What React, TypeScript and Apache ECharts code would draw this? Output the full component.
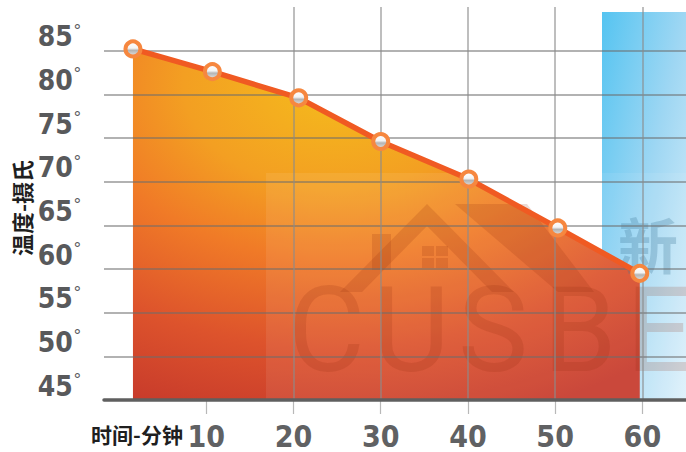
import React, { useEffect, useRef } from "react";
import * as echarts from "echarts";

// ---- data ----
const minutes = [1.6, 10.7, 20.6, 30, 40.1, 50.3, 59.7];
const temperatures = [85.2, 82.6, 79.6, 74.6, 70.3, 64.7, 59.5];
const xTickValues = [10, 20, 30, 40, 50, 60];
const yTickValues = [45, 50, 55, 60, 65, 70, 75, 80, 85];
const yAxisTitle = "温度-摄氏";
const xAxisTitle = "时间-分钟";
const watermarkLetters = ["C", "U", "S", "B", "E"];
const watermarkCJK = "新";

const NARROW = "'Liberation Sans Narrow', 'DejaVu Sans Condensed', 'Arial Narrow', sans-serif";
const CJK = "'Noto Sans CJK SC', 'Noto Sans', sans-serif";

export default function App() {
  const ref = useRef<HTMLDivElement>(null);

  useEffect(() => {
    if (!ref.current) return;
    const chart = echarts.init(ref.current, undefined, { renderer: "svg" });
    const points = minutes.map((m, i) => [m, temperatures[i]]);

    const letterX = [288, 373, 458, 543, 626];
    const wmColor = "rgba(140,40,10,0.17)";

    const option: any = {
      animation: false,
      grid: [
        { left: 104, right: 0, top: 7, bottom: 52 },
        { left: 119, right: -4, top: 7, bottom: 52 },
      ],
      xAxis: [
        {
          gridIndex: 0,
          type: "value",
          min: 0,
          max: 1,
          z: 4,
          axisLine: { show: true, lineStyle: { color: "#5f5f5f", width: 3.5, cap: "round" } },
          axisTick: { show: false },
          axisLabel: { show: false },
          splitLine: { show: false },
        },
        {
          gridIndex: 1,
          type: "value",
          min: 0,
          max: 65,
          interval: 5,
          z: 2,
          axisLine: { show: false },
          axisTick: {
            show: true,
            customValues: xTickValues,
            length: 14,
            lineStyle: { color: "#b8b8b8", width: 1.2 },
          },
          axisLabel: {
            customValues: xTickValues,
            margin: 21,
            fontSize: 30,
            fontWeight: "bold",
            color: "#606163",
            fontFamily: NARROW,
          },
          splitLine: {
            show: true,
            showMinLine: false,
            lineStyle: { color: "rgba(140,140,140,0.75)", width: 1.5 },
          },
        },
      ],
      yAxis: [
        {
          gridIndex: 0,
          type: "value",
          min: 45,
          max: 90,
          interval: 5,
          z: 2,
          axisLine: { show: false },
          axisTick: { show: false },
          axisLabel: {
            margin: 23,
            verticalAlign: "bottom",
            formatter: (v: number) => (yTickValues.includes(v) ? `{v|${v}}{d|°}` : ""),
            rich: {
              v: {
                fontSize: 28,
                fontWeight: "bold",
                color: "#58595b",
                fontFamily: NARROW,
                lineHeight: 24,
                verticalAlign: "bottom",
              },
              d: {
                fontSize: 18,
                color: "#58595b",
                fontFamily: "'Liberation Sans', sans-serif",
                lineHeight: 24,
                verticalAlign: "bottom",
                padding: [0, 0, 11, 1],
              },
            },
          },
          splitLine: {
            show: true,
            showMaxLine: false,
            lineStyle: { color: "rgba(110,110,110,0.7)", width: 1.5 },
          },
        },
        {
          gridIndex: 1,
          type: "value",
          min: 45,
          max: 90,
          show: false,
          splitLine: { show: false },
        },
      ],
      graphic: [
        {
          type: "rect",
          z: 0,
          silent: true,
          shape: { x: 602, y: 12, width: 84, height: 388 },
          style: {
            fill: {
              type: "linear",
              x: 0,
              y: 0,
              x2: 1,
              y2: 1,
              colorStops: [
                { offset: 0, color: "#55c4f1" },
                { offset: 0.5, color: "#9fd7f3" },
                { offset: 1, color: "#dff1fb" },
              ],
            },
          },
        },
        {
          type: "rect",
          z: 1.5,
          silent: true,
          shape: { x: 266, y: 173, width: 420, height: 227 },
          style: { fill: "rgba(255,255,255,0.08)" },
        },
        {
          type: "polygon",
          z: 1.5,
          silent: true,
          shape: { points: [[340, 292], [427, 204], [514, 292], [492, 292], [427, 226], [362, 292]] },
          style: { fill: wmColor },
        },
        {
          type: "polygon",
          z: 1.5,
          silent: true,
          shape: { points: [[455, 204], [527, 204], [594, 292], [558, 292]] },
          style: { fill: wmColor },
        },
        {
          type: "rect",
          z: 1.5,
          silent: true,
          shape: { x: 372, y: 234, width: 19, height: 36 },
          style: { fill: wmColor },
        },
        ...[
          [422, 246],
          [436, 246],
          [422, 258],
          [436, 258],
        ].map(([x, y]) => ({
          type: "rect",
          z: 1.5,
          silent: true,
          shape: { x, y, width: 12, height: 10 },
          style: { fill: wmColor },
        })),
        ...watermarkLetters.map((ch, i) => ({
          type: "text",
          z: 1.5,
          silent: true,
          x: letterX[i],
          y: 272,
          style: {
            text: ch,
            fontSize: 118,
            fontFamily: "Roboto, 'Liberation Sans', sans-serif",
            fontWeight: "normal",
            fill: wmColor,
          },
        })),
        {
          type: "text",
          z: 1.5,
          silent: true,
          x: 618,
          y: 212,
          style: {
            text: watermarkCJK,
            fontSize: 60,
            fontWeight: "bold",
            fontFamily: CJK,
            fill: "rgba(60,120,150,0.28)",
          },
        },
        {
          type: "text",
          z: 5,
          x: 21,
          y: 208,
          rotation: Math.PI / 2,
          style: {
            text: yAxisTitle,
            fontSize: 22,
            fontWeight: "bold",
            fontFamily: CJK,
            fill: "#1f1f1f",
            align: "center",
            verticalAlign: "middle",
          },
        },
        {
          type: "text",
          z: 5,
          x: 137,
          y: 434,
          style: {
            text: xAxisTitle,
            fontSize: 21,
            fontWeight: "bold",
            fontFamily: CJK,
            fill: "#1f1f1f",
            align: "center",
            verticalAlign: "middle",
          },
        },
      ],
      series: [
        {
          type: "line",
          xAxisIndex: 1,
          yAxisIndex: 1,
          data: points,
          z: 1,
          symbol: "none",
          silent: true,
          lineStyle: { width: 0, opacity: 0 },
          areaStyle: {
            origin: "start",
            opacity: 1,
            color: {
              type: "radial",
              x: 0.4,
              y: 0.1,
              r: 1,
              colorStops: [
                { offset: 0, color: "#f5bc1c" },
                { offset: 0.3, color: "#f39f22" },
                { offset: 0.5, color: "#f07a27" },
                { offset: 0.75, color: "#dd532c" },
                { offset: 1, color: "#c6392b" },
              ],
            },
          },
        },
        {
          type: "line",
          xAxisIndex: 1,
          yAxisIndex: 1,
          data: points,
          z: 3,
          symbol: "circle",
          symbolSize: 15,
          showSymbol: true,
          lineStyle: { color: "#f05a22", width: 5.5 },
          itemStyle: {
            color: {
              type: "linear",
              x: 0,
              y: 0,
              x2: 0,
              y2: 1,
              colorStops: [
                { offset: 0, color: "#ffffff" },
                { offset: 0.45, color: "#f4f4f4" },
                { offset: 0.6, color: "#b4b4b4" },
                { offset: 1, color: "#e6e6e6" },
              ],
            },
            borderColor: "#f6873f",
            borderWidth: 4,
          },
        },
      ],
    };

    chart.setOption(option);
    return () => chart.dispose();
  }, []);

  return (
    <div
      ref={ref}
      style={{ position: "fixed", left: 0, top: 0, width: 686, height: 452, background: "#ffffff" }}
    />
  );
}
